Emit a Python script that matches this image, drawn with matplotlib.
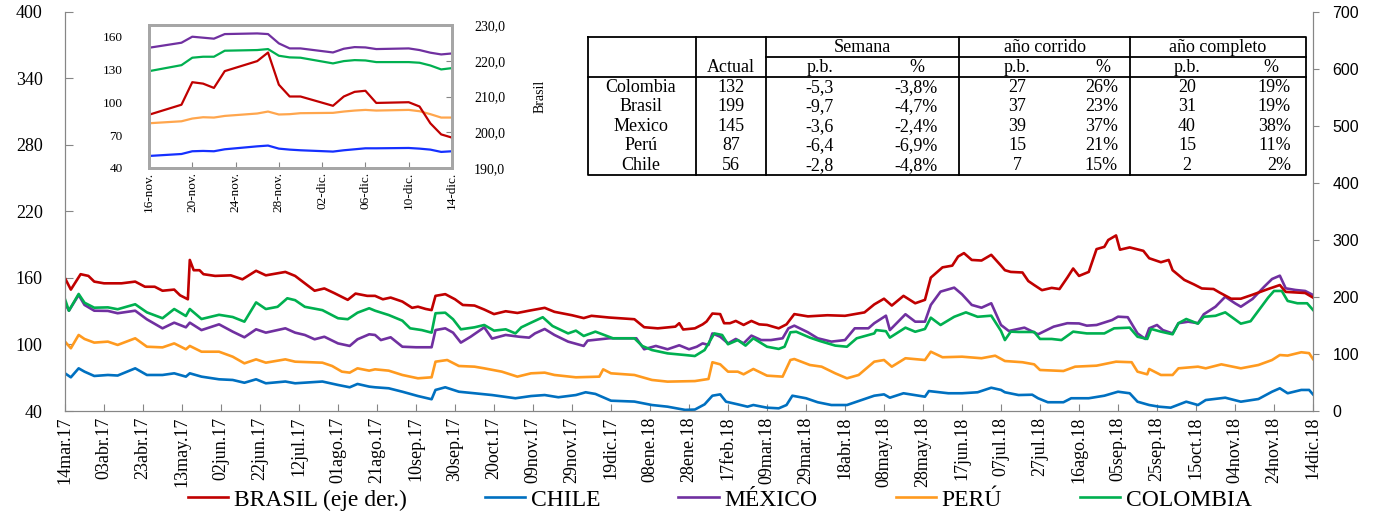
import numpy as np
import matplotlib
matplotlib.use("Agg")
import matplotlib.pyplot as plt
from matplotlib.ticker import FuncFormatter

plt.rcParams['font.family'] = ['Liberation Serif', 'DejaVu Serif']

# ---- main chart: spreads (pb), day offsets from 14mar.17 ----
start = np.datetime64('2017-03-14')

brasil_days = [0, 3, 8, 12, 15, 20, 29, 36, 41, 46, 50, 56, 59, 63, 64, 66, 69, 71, 77, 85,
               91, 98, 103, 113, 118, 123, 128, 133, 138, 145, 149, 155, 159, 163, 167, 173, 178, 181, 185, 188,
               190, 195, 200, 204, 210, 215, 220, 226, 232, 238, 246, 251, 260, 266, 270, 279, 292, 297, 304, 313,
               315, 317, 323, 327, 329, 332, 336, 338, 341, 344, 348, 352, 356, 360, 366, 370, 374, 381, 391, 400,
               410, 415, 420, 424, 430, 436, 441, 444, 450, 455, 458, 461, 465, 470, 475, 480, 482, 485, 491, 494,
               497, 501, 506, 510, 514, 517, 520, 525, 529, 533, 535, 539, 541, 546, 553, 556, 562, 566, 568, 574,
               579, 583, 589, 592, 598, 603, 609, 617, 623, 626, 631, 636, 640]
brasil = [233, 213, 240, 237, 227, 224, 224, 227, 218, 218, 211, 213, 203, 196, 265, 247, 247, 240, 237, 238,
          231, 246, 238, 244, 237, 224, 211, 215, 207, 195, 206, 202, 202, 196, 199, 192, 181, 183, 179, 177,
          202, 205, 196, 186, 185, 178, 170, 175, 172, 176, 181, 174, 168, 163, 167, 164, 161, 147, 145, 148,
          154, 143, 145, 152, 157, 171, 170, 154, 154, 158, 151, 158, 152, 151, 145, 152, 170, 166, 168, 167,
          173, 187, 197, 185, 202, 189, 195, 234, 252, 255, 271, 277, 265, 264, 274, 255, 247, 244, 243, 228,
          221, 212, 216, 214, 234, 250, 237, 244, 284, 288, 300, 308, 283, 287, 281, 268, 261, 265, 247, 230,
          222, 215, 214, 208, 197, 197, 204, 214, 221, 209, 208, 207, 199]

chile_days = [0, 3, 7, 10, 15, 22, 27, 36, 42, 50, 56, 62, 64, 70, 79, 86, 92, 98, 103, 113,
              118, 132, 140, 146, 150, 156, 159, 166, 173, 181, 188, 190, 195, 202, 210, 219, 231, 239, 246, 253,
              262, 267, 272, 280, 292, 301, 309, 318, 323, 328, 332, 336, 339, 345, 350, 353, 360, 366, 370, 373,
              380, 386, 393, 401, 407, 415, 420, 423, 430, 441, 443, 453, 460, 468, 475, 480, 482, 489, 496, 499,
              504, 512, 516, 525, 533, 540, 546, 550, 556, 561, 567, 575, 581, 585, 595, 603, 612, 619, 623, 627,
              634, 638, 640]
chile = [74, 70.4, 78.5, 75.5, 71.6, 72.5, 72, 78.5, 72.5, 72.5, 74, 71, 74, 71, 68.6, 68, 65.5, 68.6, 65, 66.6,
         65, 66.6, 63.5, 61.4, 64.4, 62, 61.4, 60.5, 57.4, 53.5, 50.6, 59, 61.4, 57.4, 56, 54.4, 51.5, 53.5, 54.4, 52.4,
         54.4, 56.9, 55.4, 49.3, 48.5, 45.4, 43.9, 41, 41.3, 46, 53.8, 55, 48.4, 46, 43.9, 45.4, 43, 42.4, 45.4, 53.8,
         51.5, 47.9, 45.4, 45.4, 49, 53.8, 55, 52, 56, 52.9, 58, 56, 56, 56.9, 61, 59, 56.9, 54.4, 54.7, 51.5,
         47.9, 47.9, 51.5, 51.5, 53.8, 57.4, 56, 48.4, 45.4, 43.9, 43, 48.4, 45.4, 49.9, 52, 48.4, 50.8, 57.4, 60.5, 56,
         59, 59, 55]

mexico_days = [0, 2, 7, 10, 15, 22, 27, 36, 42, 50, 56, 62, 64, 70, 79, 86, 92, 98, 103, 113,
               118, 123, 128, 133, 140, 146, 150, 156, 159, 162, 167, 173, 180, 188, 190, 195, 199, 203, 208, 215,
               219, 226, 233, 238, 241, 246, 251, 258, 266, 268, 279, 293, 297, 303, 309, 315, 320, 324, 327, 330,
               332, 336, 340, 344, 348, 352, 357, 362, 368, 371, 374, 381, 386, 393, 400, 405, 412, 415, 421, 423,
               431, 436, 441, 444, 449, 456, 460, 465, 470, 475, 480, 484, 492, 499, 507, 514, 520, 524, 529, 537,
               540, 545, 550, 554, 556, 560, 563, 568, 571, 576, 581, 584, 590, 595, 600, 603, 609, 615, 619, 623,
               626, 631, 636, 640]
mexico = [137.2, 130.5, 144.7, 135.7, 130.5, 130.3, 128.2, 130.5, 122.7, 114.6,
          119.7, 115.5, 119.7, 113, 118.2, 111.6, 106.5, 113.7, 110.7, 114.6,
          110.7, 108.6, 104.7, 107, 101, 98.7, 104.7, 109.2, 108.6, 104,
          106.5, 98, 97.5, 97.5, 113, 114.6, 110.7, 101.7, 107, 115.5,
          105.3, 108.6, 107, 106.2, 110, 114, 108.6, 102.6, 98.7, 103.5,
          105.6, 105.6, 95.7, 98.7, 95.7, 99.3, 95.7, 98, 101, 99.6,
          110, 107, 101, 105, 101, 108, 104, 104, 105.6, 114.6,
          117, 111, 105.6, 102.6, 104, 114.6, 114.6, 119.2, 126, 113,
          127.3, 120.6, 120.6, 135.7, 147.7, 151.3, 145.3, 135.7, 133.2, 137.2,
          117.6, 112.2, 115.2, 109.2, 116.1, 119.2, 119, 117, 117.6, 122.1,
          125.1, 124.6, 110, 105, 114.6, 117.6, 113, 110, 119.2, 120.6,
          119.2, 127.3, 134.1, 143.1, 137.2, 134.1, 141.1, 152.2, 159.1, 162.1,
          150.7, 149.2, 148.3, 144.7]

peru_days = [0, 3, 7, 10, 15, 22, 27, 36, 42, 50, 56, 62, 64, 70, 79, 86, 92, 98, 103, 113,
             118, 132, 137, 142, 146, 150, 156, 159, 166, 173, 181, 188, 190, 196, 202, 210, 215, 224, 232, 239,
             246, 251, 262, 274, 276, 280, 292, 301, 309, 323, 330, 332, 336, 340, 345, 348, 353, 360, 368, 372,
             374, 382, 388, 395, 401, 407, 415, 420, 424, 431, 441, 444, 450, 460, 470, 477, 482, 491, 497, 500,
             512, 518, 529, 539, 547, 550, 555, 556, 562, 568, 571, 581, 585, 593, 603, 612, 619, 623, 627, 634,
             638, 640]
peru = [102.6, 96.6, 108.6, 105, 101.7, 102.6, 99.6, 105.6, 98, 97.4,
        101, 95.7, 98.7, 93.5, 93.5, 89, 83, 86.6, 83.6, 86.6,
        84.5, 83.6, 80.6, 75.5, 74.6, 78.5, 76.4, 77.6, 76.4, 72.5,
        69.5, 70.4, 84.5, 86, 80.6, 80, 78.5, 75.5, 71, 74,
        74.6, 72.5, 70.4, 71, 77.6, 74, 72.5, 68, 66.5, 67,
        68.9, 84, 82.1, 75.5, 75.5, 73.1, 77.9, 71.9, 71, 86,
        86.9, 81.5, 80, 74, 69.5, 72.5, 84.5, 86, 80, 87.6,
        86, 93.5, 88.5, 89, 87.6, 89.9, 85.1, 84, 82.1, 77,
        76.1, 80, 80.9, 84.5, 84, 75.5, 73.1, 77.9, 72.5, 72.5,
        78.5, 80, 78.5, 82.1, 78.5, 81.5, 86, 90.5, 90, 93,
        92.2, 86.9]

colombia_days = [0, 2, 7, 10, 15, 22, 27, 36, 42, 50, 56, 62, 64, 70, 79, 86, 92, 98, 103, 109,
                 114, 118, 123, 132, 140, 145, 150, 156, 159, 166, 173, 177, 183, 188, 190, 195, 199, 203, 210, 215,
                 220, 226, 231, 234, 239, 245, 250, 258, 262, 266, 272, 281, 292, 296, 301, 309, 318, 323, 328, 333,
                 337, 340, 345, 349, 353, 360, 366, 369, 372, 375, 382, 387, 395, 401, 406, 415, 416, 421, 423, 431,
                 436, 441, 444, 449, 456, 462, 468, 475, 480, 482, 485, 489, 497, 500, 506, 511, 517, 524, 533, 538,
                 546, 550, 555, 557, 562, 568, 571, 575, 581, 584, 590, 595, 603, 608, 617, 620, 624, 627, 632, 637,
                 640]
colombia = [140.8, 130.5, 145.6, 137.7, 133.2, 133.5, 131.8, 136.3, 129, 123.7,
            132, 125.7, 132, 123, 126.8, 124.8, 120.6, 138, 132, 134,
            141.7, 140, 134, 131, 123.7, 122.8, 128.7, 132.7, 130.5, 126.6,
            121.5, 114.6, 113, 110.7, 128.2, 128.7, 122.8, 113.7, 115.5, 117.6,
            112.5, 113.7, 110, 115.5, 119.7, 124.6, 116.7, 110, 112.5, 107.7,
            111.6, 105.6, 105.6, 98.7, 95, 92, 90.5, 89.6, 95, 110,
            108.6, 100.2, 104, 99, 105.6, 98, 96, 98, 111, 111.5,
            106.2, 103.2, 99, 98, 105.6, 110, 113, 112, 106.2, 115.2,
            111.5, 114, 124.2, 117.6, 125, 129, 125, 126, 112.2, 104,
            111.6, 111.3, 111.3, 105, 105, 104, 111.6, 110, 110, 114.6,
            115.2, 107, 105, 114, 111.6, 109.2, 119.2, 123, 118.8, 125,
            125.9, 129, 118.8, 121, 142.3, 148.3, 148.3, 139.3, 137.2, 137.2,
            131.2]

xtick_labels = ['14mar.17', '03abr.17', '23abr.17', '13may.17', '02jun.17', '22jun.17', '12jul.17',
                '01ago.17', '21ago.17', '10sep.17', '30sep.17', '20oct.17', '09nov.17', '29nov.17',
                '19dic.17', '08ene.18', '28ene.18', '17feb.18', '09mar.18', '29mar.18', '18abr.18',
                '08may.18', '28may.18', '17jun.18', '07jul.18', '27jul.18', '16ago.18', '05sep.18',
                '25sep.18', '15oct.18', '04nov.18', '24nov.18', '14dic.18']

# ---- inset: last month (business days from 16-nov) ----
inset_start = np.datetime64('2018-11-16')
inset_days = [0, 3, 4, 5, 6, 7, 10, 11, 12, 13, 14, 17, 18, 19, 20, 21, 24, 25, 26, 27, 28]
mexico_in = [149.9, 154.5, 160, 159.1, 158.2, 162.4, 163, 162.4, 153.9, 149.3, 149.3,
             145.6, 149, 150.5, 150.2, 148.7, 149.3, 147.8, 145.4, 143.8, 144.7]
colombia_in = [128.5, 134, 140.8, 141.7, 141.7, 147.2, 147.8, 148.7, 142.6, 141.1, 140.8,
               135.6, 137.7, 138.6, 138.3, 136.8, 136.8, 136.2, 133.7, 130.1, 131.3]
brasil_in = [204.9, 207.7, 214, 213.6, 212.4, 217.1, 219.9, 222.3, 213.3, 210, 210,
             207.4, 210, 211.3, 211.6, 208.2, 208.4, 207.2, 202.5, 199.4, 198.5]
peru_in = [80.9, 82.7, 85.2, 86.4, 86.1, 87.6, 89.8, 91.6, 88.9, 89.2, 90.1,
           90.4, 91.6, 92.5, 93.1, 92.5, 93.1, 91.9, 89.2, 86.1, 86.1]
chile_in = [51, 52.8, 55.3, 55.6, 55.3, 57.1, 59.8, 60.5, 57.7, 56.8, 56.2,
            55, 56.2, 57.1, 58, 58, 58.3, 57.7, 56.8, 54.7, 55.3]
inset_tick_labels = ['16-nov.', '20-nov.', '24-nov.', '28-nov.', '02-dic.', '06-dic.', '10-dic.', '14-dic.']

# ---- summary table ----
table_rows = ['Colombia', 'Brasil', 'Mexico', 'Perú', 'Chile']
actual = ['132', '199', '145', '87', '56']
sem_pb = ['-5,3', '-9,7', '-3,6', '-6,4', '-2,8']
sem_pct = ['-3,8%', '-4,7%', '-2,4%', '-6,9%', '-4,8%']
ytd_pb = ['27', '37', '39', '15', '7']
ytd_pct = ['26%', '23%', '37%', '21%', '15%']
yr_pb = ['20', '31', '40', '15', '2']
yr_pct = ['19%', '19%', '38%', '11%', '2%']

RED, BLUE, PURPLE, ORANGE, GREEN = '#C00000', '#0070C0', '#7030A0', '#FF9A1F', '#00B050'
GRAY = '#868686'

W, H = 1380, 516


def px_box(x0, y0, x1, y1):
    # pixel box (top-left origin) -> figure fraction
    return [x0 / W, 1 - y1 / H, (x1 - x0) / W, (y1 - y0) / H]


def to_dates(base, days):
    return base + np.array(days).astype('timedelta64[D]')


fig = plt.figure(figsize=(W / 100, H / 100), dpi=100)

ax = fig.add_axes(px_box(65, 12, 1313, 411))
ax2 = ax.twinx()

lw = 1.9
l_chile, = ax.plot(to_dates(start, chile_days), chile, color=BLUE, lw=lw)
l_mex, = ax.plot(to_dates(start, mexico_days), mexico, color=PURPLE, lw=lw)
l_peru, = ax.plot(to_dates(start, peru_days), peru, color=ORANGE, lw=lw)
l_col, = ax.plot(to_dates(start, colombia_days), colombia, color=GREEN, lw=lw)
l_bra, = ax2.plot(to_dates(start, brasil_days), brasil, color=RED, lw=lw)

ax.set_xlim(start, start + np.timedelta64(640, 'D'))
ax.set_ylim(40, 400)
ax.set_yticks(np.arange(40, 401, 60))
ax2.set_ylim(0, 700)
ax2.set_yticks(np.arange(0, 701, 100))

xt = start + np.arange(len(xtick_labels)) * np.timedelta64(20, 'D')
ax.set_xticks(xt)
ax.set_xticklabels(xtick_labels)

for a in (ax, ax2):
    a.spines['top'].set_visible(False)
    for s in ('left', 'right', 'bottom'):
        a.spines[s].set_color(GRAY)
ax.tick_params(axis='y', direction='in', length=6, color=GRAY, labelsize=13, pad=16)
ax.tick_params(axis='x', direction='in', length=5, color=GRAY, labelsize=13, labelrotation=90, pad=4)
ax2.tick_params(axis='y', direction='out', length=4, color=GRAY, labelsize=11.5, pad=10)
for t in ax2.get_yticklabels():
    t.set_fontfamily(['Liberation Sans', 'DejaVu Sans'])

# inset with the last month
ax_in = fig.add_axes(px_box(149, 25, 452, 168))
ax_in.set_facecolor('white')
ax_in2 = ax_in.twinx()
ilw = 1.6
ax_in.plot(to_dates(inset_start, inset_days), mexico_in, color=PURPLE, lw=ilw)
ax_in.plot(to_dates(inset_start, inset_days), colombia_in, color=GREEN, lw=ilw)
ax_in.plot(to_dates(inset_start, inset_days), peru_in, color='#FFA64D', lw=ilw)
ax_in.plot(to_dates(inset_start, inset_days), chile_in, color='#1530FF', lw=ilw)
ax_in2.plot(to_dates(inset_start, inset_days), brasil_in, color=RED, lw=ilw)

ax_in.set_xlim(inset_start, inset_start + np.timedelta64(28, 'D'))
ax_in.set_ylim(40, 170.7)
ax_in.set_yticks([40, 70, 100, 130, 160])
ax_in2.set_ylim(190, 230)
ax_in2.set_yticks(np.arange(190, 231, 10))
ax_in2.yaxis.set_major_formatter(FuncFormatter(lambda v, p: f"{v:.1f}".replace('.', ',')))
ax_in.set_xticks(inset_start + np.arange(len(inset_tick_labels)) * np.timedelta64(4, 'D'))
ax_in.set_xticklabels(inset_tick_labels)
ax_in.tick_params(axis='x', direction='in', length=4, color=GRAY, labelsize=9.5, labelrotation=90, pad=3)
ax_in.tick_params(axis='y', length=0, labelsize=9.5, pad=19)
ax_in2.tick_params(axis='y', direction='in', length=4, color=GRAY, labelsize=10, pad=16)
ax_in2.set_ylabel('Brasil', fontsize=10)
ax_in2.yaxis.set_label_coords(1.27, 0.5)
for a in (ax_in, ax_in2):
    for s in a.spines.values():
        s.set_color('#A6A6A6')
        s.set_linewidth(2)

# table (drawn in pixel coords)
ax_t = fig.add_axes(px_box(588, 37, 1306, 175))
ax_t.set_xlim(588, 1306)
ax_t.set_ylim(175, 37)
ax_t.axis('off')
kw = dict(color='black', lw=1.3, clip_on=False)
ax_t.plot([588, 1306, 1306, 588, 588], [37, 37, 175, 175, 37], **kw)
for xv in (696, 766, 959, 1130):
    ax_t.plot([xv, xv], [37, 175], **kw)
ax_t.plot([766, 1306], [57, 57], **kw)
ax_t.plot([588, 1306], [77, 77], **kw)

fs = 13
for name, xc in (('Semana', 862), ('año corrido', 1045), ('año completo', 1218)):
    ax_t.text(xc, 47.5, name, ha='center', va='center', fontsize=fs)
ax_t.text(731, 67, 'Actual', ha='center', va='center', fontsize=fs)
for xpb, xpc in ((820, 917), (1017, 1103), (1187, 1271)):
    ax_t.text(xpb, 67, 'p.b.', ha='center', va='center', fontsize=fs)
    ax_t.text(xpc, 67, '%', ha='center', va='center', fontsize=fs)

cols = [(sem_pb, 820, 'center'), (sem_pct, 938, 'right'), (ytd_pb, 1017, 'center'),
        (ytd_pct, 1118, 'right'), (yr_pb, 1187, 'center'), (yr_pct, 1291, 'right')]
for i, name in enumerate(table_rows):
    yc = 87.3 + i * 19.5
    ax_t.text(641, yc, name, ha='center', va='center', fontsize=fs)
    ax_t.text(731, yc, actual[i], ha='center', va='center', fontsize=fs)
    for vals, xc, ha in cols:
        ax_t.text(xc, yc, vals[i], ha=ha, va='center', fontsize=fs)

fig.legend([l_bra, l_chile, l_mex, l_peru, l_col],
           ['BRASIL (eje der.)', 'CHILE', 'MÉXICO', 'PERÚ', 'COLOMBIA'],
           loc='center', bbox_to_anchor=(720 / W, 1 - 500 / H), ncol=5, frameon=False,
           fontsize=17, handlelength=1.7, handletextpad=0.25, columnspacing=3.3)

fig.savefig('out.png', dpi=100)
